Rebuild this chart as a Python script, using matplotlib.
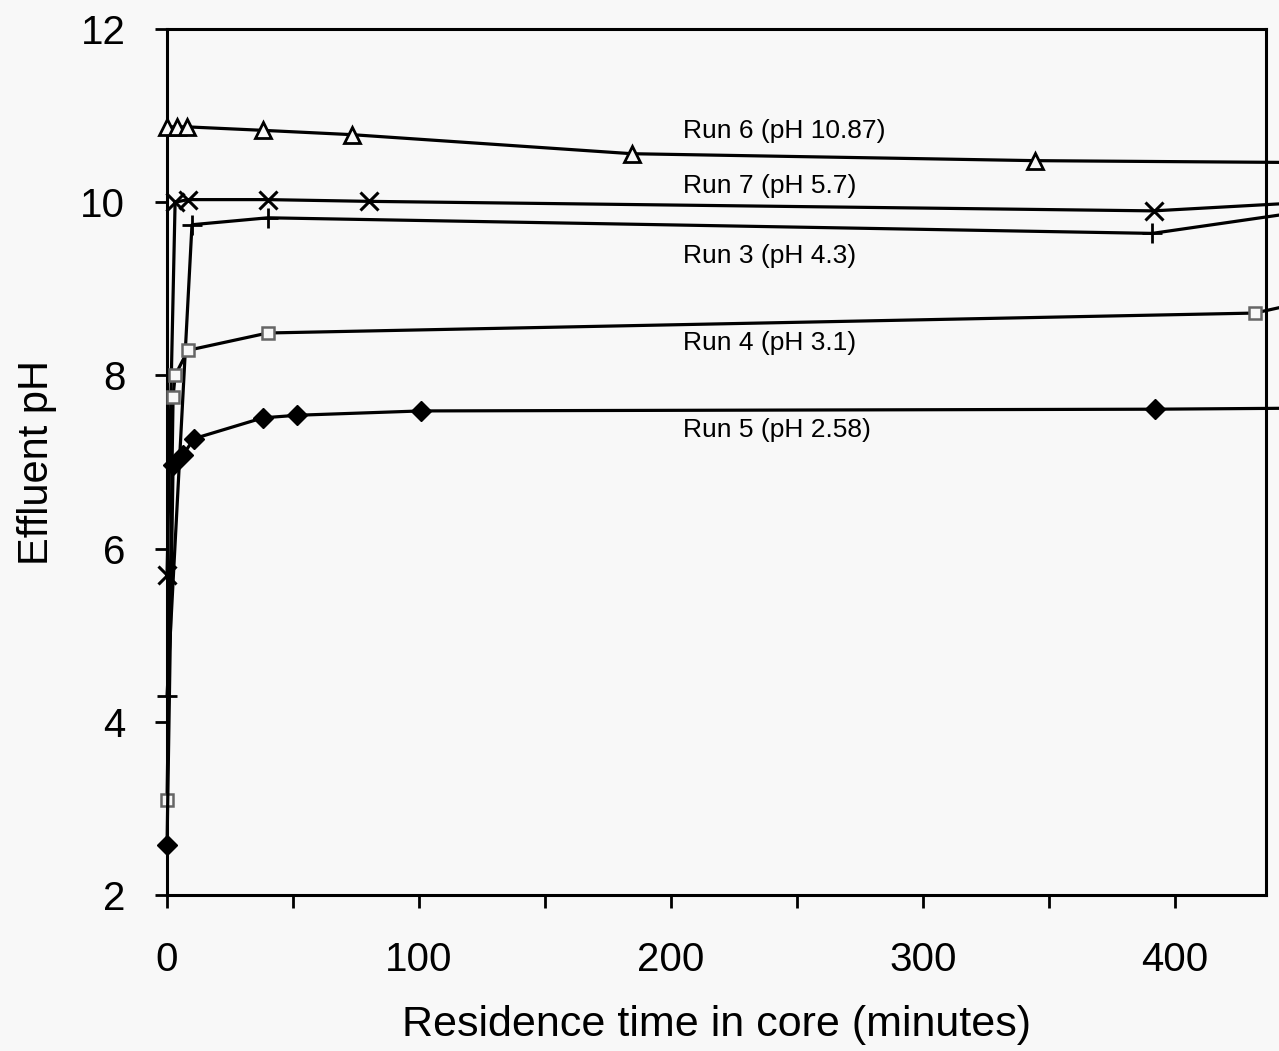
import matplotlib
matplotlib.use("Agg")
import matplotlib.pyplot as plt

plt.rcParams['font.family'] = ['Liberation Sans', 'DejaVu Sans']

# Residence time (minutes) and effluent pH
# (last point of each run lies past the right edge of the frame, no marker)
run6_t = [0, 4, 8, 38, 73.4, 184.5, 344.4, 441]
run6_ph = [10.87, 10.87, 10.87, 10.83, 10.78, 10.56, 10.48, 10.46]

run7_t = [0, 3.2, 8.3, 40, 80, 391.5, 441]
run7_ph = [5.7, 10.0, 10.03, 10.03, 10.01, 9.90, 9.98]

run3_t = [0, 9.9, 40, 391, 441]
run3_ph = [4.3, 9.74, 9.82, 9.64, 9.85]

run4_t = [0, 2.4, 3.2, 8.3, 40, 431.7, 441]
run4_ph = [3.1, 7.75, 8.0, 8.29, 8.49, 8.72, 8.78]

run5_t = [0, 2.4, 6.3, 10.7, 38, 51.6, 100.8, 392, 441]
run5_ph = [2.58, 6.97, 7.08, 7.27, 7.51, 7.54, 7.59, 7.61, 7.62]

run_labels = ["Run 6 (pH 10.87)", "Run 7 (pH 5.7)", "Run 3 (pH 4.3)",
              "Run 4 (pH 3.1)", "Run 5 (pH 2.58)"]
label_x = 204.8
label_y = [10.74, 10.11, 9.30, 8.29, 7.29]

bg = '#f8f8f8'
fig = plt.figure(figsize=(12.79, 10.51), dpi=100, facecolor=bg)
ax = fig.add_axes([0.1306, 0.1484, 0.8592, 0.8240], facecolor=bg)

lw = 2.3

def draw(t, ph, **kw):
    # markers on all but the run-off point at the right edge
    ax.plot(t, ph, color='black', lw=lw, clip_on=False, zorder=3,
            markevery=list(range(len(t) - 1)), **kw)

draw(run6_t, run6_ph, marker='^', ms=11, mfc=bg, mec='black', mew=2.0)   # Run 6
draw(run7_t, run7_ph, marker='x', ms=13, mew=2.2)                         # Run 7
draw(run3_t, run3_ph, marker='+', ms=15, mew=2.0)                         # Run 3
draw(run4_t, run4_ph, marker='s', ms=8, mfc=bg, mec='#666666', mew=1.8)   # Run 4
draw(run5_t, run5_ph, marker='D', ms=10, mfc='black', mec='black')        # Run 5

for txt, yy in zip(run_labels, label_y):
    ax.text(label_x, yy, txt, fontsize=19, va='baseline', ha='left')

ax.set_xlim(0, 436.1)
ax.set_ylim(2, 12)

ax.set_xticks(range(0, 401, 50))
ax.set_xticklabels(['0', '', '100', '', '200', '', '300', '', '400'])
ax.set_yticks(range(2, 13, 2))

for s in ax.spines.values():
    s.set_linewidth(2.2)

ax.tick_params(axis='x', direction='out', length=9, width=2, pad=24, labelsize=29)
ax.tick_params(axis='y', direction='out', length=9, width=2, pad=21, labelsize=29)

ax.set_xlabel("Residence time in core (minutes)", fontsize=31)
ax.set_ylabel("Effluent pH", fontsize=30)
ax.xaxis.set_label_coords(0.5, -0.150)
ax.xaxis.label.set_va('center')
ax.yaxis.set_label_coords(-0.118, 0.5)
ax.yaxis.label.set_va('center')

fig.savefig("out.png", dpi=100, facecolor=bg)
